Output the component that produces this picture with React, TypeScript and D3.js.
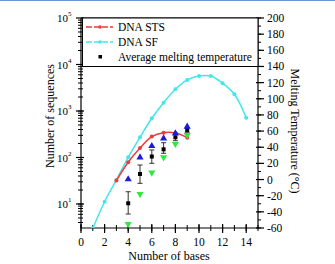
import React from "react";
import * as d3 from "d3";

const bases = [1, 2, 3, 4, 5, 6, 7, 8, 9, 10, 11, 12, 13, 14];
const sfCounts = [3.0, 11.2, 33, 101, 272, 700, 1510, 2930, 4650, 5660, 5660, 3950, 2290, 718];
const stsBases = [3, 4, 5, 6, 7, 8, 9];
const stsCounts = [32, 79, 160, 282, 341, 336, 267];
const meltBases = [4, 5, 6, 7, 8, 9];
const meltAvg = [-29.4, 6.9, 28.5, 37.4, 52.3, 61.3];
const meltErrHi = [-15.1, 18, 36.6, 45.6, 57.2, 64];
const meltErrLo = [-42.7, -4.7, 20.1, 32.5, 48.1, 58.5];
const meltMax = [0.3, 27.5, 41.5, 51, 57.2, 65.4];
const meltMin = [-55, -17.9, 8.7, 27.5, 44, 55.1];
const xTicks = [0, 2, 4, 6, 8, 10, 12, 14];
const leftTicks = [1, 2, 3, 4, 5];
const rightTicks = [-60, -40, -20, 0, 20, 40, 60, 80, 100, 120, 140, 160, 180, 200];
const legendLabels = ["DNA STS", "DNA SF", "Average melting temperature"];

const RED = "#ee3b3b";
const CYAN = "#44e6ec";
const BLUE = "#1c1cd8";
const GREEN = "#33e640";
const FONT = "Liberation Serif, Times New Roman, serif";

export default function App() {
  const L = 81, R = 258, T = 18, B = 228;
  const x = d3.scaleLinear().domain([0, 15]).range([L, R]);
  const yL = d3.scaleLog().domain([Math.pow(10, 0.484), 1e5]).range([B, T]);
  const yR = d3.scaleLinear().domain([-60, 200]).range([B, T]);

  const lineSF = d3.line<number>().x((_, i) => x(bases[i])).y((d) => yL(d)).curve(d3.curveCatmullRom);
  const lineSTS = d3.line<number>().x((_, i) => x(stsBases[i])).y((d) => yL(d)).curve(d3.curveCatmullRom);

  const minorLeft: number[] = [];
  for (let e = 0; e < 5; e++) for (let k = 1; k < 10; k++) {
    const v = k * Math.pow(10, e);
    if (v >= Math.pow(10, 0.484) && v <= 1e5) minorLeft.push(v);
  }
  const minorRight = d3.range(-60, 201, 10);
  const minorX = d3.range(0, 16, 1);

  const tri = d3.symbol().type(d3.symbolTriangle).size(22)() as string;

  return (
    <svg width={335} height={264} style={{ position: "absolute", left: 0, top: 0, background: "#fff" }} fontFamily={FONT}>
      <line x1={0} x2={335} y1={0.5} y2={0.5} stroke="#6a95d0" strokeWidth={1} />
      <defs>
        <clipPath id="plot">
          <rect x={L} y={T} width={R - L} height={B - T} />
        </clipPath>
      </defs>
      {/* axes lines */}
      <line x1={L} x2={L} y1={T} y2={B} stroke="#000" strokeWidth={1.2} />
      <line x1={R} x2={R} y1={T} y2={B} stroke="#000" strokeWidth={1.2} />
      <line x1={L} x2={R} y1={B} y2={B} stroke="#000" strokeWidth={1.2} />
      <line x1={L} x2={R} y1={T} y2={T} stroke="#000" strokeWidth={1} />
      {/* left ticks */}
      {minorLeft.map((v, i) => (
        <line key={"ml" + i} x1={L - 3} x2={L + 2} y1={yL(v)} y2={yL(v)} stroke="#000" strokeWidth={1} />
      ))}
      {leftTicks.map((e) => (
        <g key={"lt" + e}>
          <line x1={L - 5} x2={L + 3} y1={yL(Math.pow(10, e))} y2={yL(Math.pow(10, e))} stroke="#000" strokeWidth={1.2} />
          <text x={57} y={yL(Math.pow(10, e)) + 4} fontSize={11}>
            10<tspan fontSize={7} dy={-6}>{e}</tspan>
          </text>
        </g>
      ))}
      {/* right ticks */}
      {minorRight.map((v) => (
        <line key={"mr" + v} x1={R} x2={R + 3} y1={yR(v)} y2={yR(v)} stroke="#000" strokeWidth={1} />
      ))}
      {rightTicks.map((v) => (
        <g key={"rt" + v}>
          <line x1={R - 2} x2={R + 6} y1={yR(v)} y2={yR(v)} stroke="#000" strokeWidth={1.2} />
          <text x={267} y={yR(v) + 4} fontSize={11.5}>{v}</text>
        </g>
      ))}
      {/* bottom ticks */}
      {minorX.map((v) => (
        <line key={"mx" + v} x1={x(v)} x2={x(v)} y1={B - 3} y2={B + 3} stroke="#000" strokeWidth={1} />
      ))}
      {xTicks.map((v) => (
        <g key={"xt" + v}>
          <line x1={x(v)} x2={x(v)} y1={B - 4} y2={B + 5} stroke="#000" strokeWidth={1.2} />
          <text x={x(v)} y={246} fontSize={11.5} textAnchor="middle">{v}</text>
        </g>
      ))}
      {/* axis titles */}
      <text x={169} y={260} fontSize={12} textAnchor="middle">Number of bases</text>
      <text transform={`translate(54,116) rotate(-90)`} fontSize={12} textAnchor="middle">Number of sequences</text>
      <text transform={`translate(291,131) rotate(90)`} fontSize={12} textAnchor="middle">Melting Temperature (°C)</text>

      <g clipPath="url(#plot)">
        <path d={lineSF(sfCounts) as string} fill="none" stroke={CYAN} strokeWidth={1.5} />
        {sfCounts.map((v, i) => (
          <circle key={"sf" + i} cx={x(bases[i])} cy={yL(v)} r={2} fill={CYAN} />
        ))}
        <path d={lineSTS(stsCounts) as string} fill="none" stroke={RED} strokeWidth={1.5} />
        {stsCounts.map((v, i) => (
          <circle key={"sts" + i} cx={x(stsBases[i])} cy={yL(v)} r={2} fill={RED} />
        ))}
        {meltBases.map((b, i) => (
          <g key={"m" + i}>
            <line x1={x(b)} x2={x(b)} y1={yR(meltErrHi[i])} y2={yR(meltErrLo[i])} stroke="#333" strokeWidth={1} />
            <line x1={x(b) - 2.5} x2={x(b) + 2.5} y1={yR(meltErrHi[i])} y2={yR(meltErrHi[i])} stroke="#333" strokeWidth={1} />
            <line x1={x(b) - 2.5} x2={x(b) + 2.5} y1={yR(meltErrLo[i])} y2={yR(meltErrLo[i])} stroke="#333" strokeWidth={1} />
            <rect x={x(b) - 2} y={yR(meltAvg[i]) - 2} width={4} height={4} fill="#000" />
            <path d={tri} transform={`translate(${x(b)},${yR(meltMax[i])})`} fill={BLUE} />
            <path d={tri} transform={`translate(${x(b)},${yR(meltMin[i])}) rotate(180)`} fill={GREEN} />
          </g>
        ))}
      </g>

      {/* legend */}
      <rect x={82.5} y={T} width={R - 82.5} height={48.5} fill="#fff" stroke="#000" strokeWidth={1} />
      <line x1={86} x2={113} y1={27} y2={27} stroke={RED} strokeWidth={1.3} strokeDasharray="6,2" />
      <circle cx={100} cy={27} r={1.8} fill={RED} />
      <text x={118} y={31} fontSize={11.5}>{legendLabels[0]}</text>
      <line x1={86} x2={113} y1={42} y2={42} stroke={CYAN} strokeWidth={1.3} strokeDasharray="6,2" />
      <circle cx={100} cy={42} r={1.8} fill={CYAN} />
      <text x={118} y={46} fontSize={11.5}>{legendLabels[1]}</text>
      <rect x={98.5} y={55} width={3.5} height={3.5} fill="#000" />
      <text x={118} y={61} fontSize={11.5}>{legendLabels[2]}</text>
    </svg>
  );
}
